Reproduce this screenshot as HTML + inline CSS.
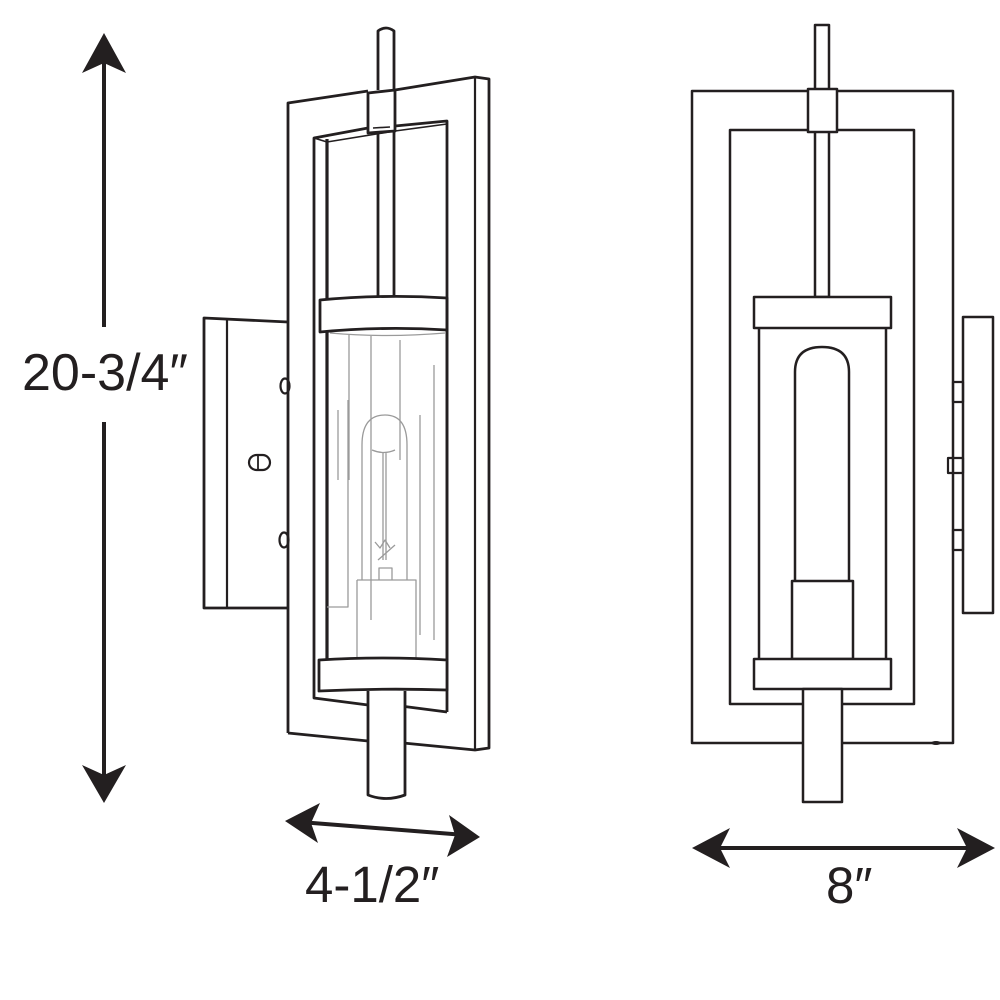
<!DOCTYPE html>
<html><head><meta charset="utf-8"><style>
html,body{margin:0;padding:0;background:#fff;}
svg{display:block}
text{font-family:"Liberation Sans","DejaVu Sans",sans-serif;fill:#231f20}
</style></head><body>
<svg width="1000" height="1000" viewBox="0 0 1000 1000" xmlns="http://www.w3.org/2000/svg">
<g stroke="#231f20" fill="none" stroke-linejoin="round">
<!-- Vertical dimension -->
<line x1="104" y1="60" x2="104" y2="327" stroke-width="4"/>
<line x1="104" y1="422" x2="104" y2="775" stroke-width="4"/>
<path d="M104 33 L126 73 L104 63 L82 73 Z" fill="#231f20" stroke="none"/>
<path d="M104 803 L126 765 L104 775 L82 765 Z" fill="#231f20" stroke="none"/>

<!-- 4-1/2 arrow -->
<line x1="300" y1="822" x2="465" y2="835" stroke-width="4"/>
<path d="M285 821 L320 803 L311 823 L318 843 Z" fill="#231f20" stroke="none"/>
<path d="M480 837 L447 857 L455 835 L449 815 Z" fill="#231f20" stroke="none"/>

<!-- 8 arrow -->
<line x1="710" y1="848" x2="975" y2="848" stroke-width="4"/>
<path d="M692 848 L730 828 L720 848 L730 868 Z" fill="#231f20" stroke="none"/>
<path d="M995 848 L957 828 L967 848 L957 868 Z" fill="#231f20" stroke="none"/>

<!-- SIDE VIEW -->
<path d="M288 322 L204 318 L204 608 L288 608" stroke-width="2.8"/>
<line x1="227" y1="318" x2="227" y2="608" stroke-width="2.2"/>
<ellipse cx="285" cy="386" rx="4.5" ry="7.5" stroke-width="2.2"/>
<ellipse cx="284" cy="540" rx="4.5" ry="7.5" stroke-width="2.2"/>
<rect x="249" y="455" width="21" height="15" rx="7.5" stroke-width="2.2"/>
<line x1="258" y1="456" x2="258" y2="469" stroke-width="1.8"/>

<path d="M288 733 L288 103 L368 91" stroke-width="2.8"/>
<path d="M395 90 L475 77 L489 79 L489 748 L475 750 L393 742 L393 705 L447 712" stroke-width="2.8"/>
<line x1="475" y1="77" x2="475" y2="750" stroke-width="2.2"/>
<path d="M288 733 L368 741" stroke-width="2.8"/>
<path d="M368 128 L314 138 L314 698 L368 705" stroke-width="2.8"/>
<path d="M395 126 L447 121 L447 712" stroke-width="2.8"/>
<path d="M327 139 L327 660" stroke-width="3.2"/>
<path d="M314 138 L327 142 L395 131 L447 124" stroke-width="1.6"/>

<path d="M378 90 L378 31 Q386 25 394 31 L394 90" stroke-width="2.8" fill="#fff"/>
<path d="M368 93 L395 90 L395 131 L368 133 Z" stroke-width="2.8" fill="#fff"/>
<line x1="373" y1="128" x2="390" y2="127" stroke-width="1.6"/>
<line x1="378" y1="133" x2="378" y2="297" stroke-width="2.8"/>
<line x1="394" y1="132" x2="394" y2="297" stroke-width="2.8"/>
<path d="M320 300 Q383 294 447 298 L447 330 Q383 326 320 332 Z" stroke-width="2.8" fill="#fff"/>
<g stroke="#9a9a9a" stroke-width="1.3">
<path d="M330 333 Q385 338 445 333"/>
<line x1="349" y1="335" x2="349" y2="480"/>
<line x1="338" y1="410" x2="338" y2="480"/>
<line x1="371" y1="336" x2="371" y2="620"/>
<line x1="400" y1="340" x2="400" y2="460"/>
<line x1="420" y1="415" x2="420" y2="635"/>
<line x1="434" y1="365" x2="434" y2="640"/>
<path d="M327 607 L348 607 L348 400"/>
<path d="M362 580 L362 445 Q362 415 385 415 Q407 415 407 445 L407 580"/>
<path d="M372 450 Q384 455 395 450 M383 452 L383 560 M386 452 L386 560"/>
<path d="M375 542 L380 548 L385 540 L390 548 M378 560 L395 545"/>
<path d="M379 580 L379 568 L392 568 L392 580"/>
<path d="M357 580 L416 580 L416 660 M357 580 L357 660"/>
</g>
<line x1="447" y1="298" x2="447" y2="660" stroke-width="2.8"/>
<path d="M319 660 Q383 656 447 660 L447 690 Q383 688 319 691 Z" stroke-width="2.8" fill="#fff"/>
<path d="M368 691 L368 795 Q386 802 405 795 L405 691" stroke-width="2.8" fill="#fff"/>

<!-- FRONT VIEW -->
<rect x="692" y="91" width="261" height="652" stroke-width="2.5"/>
<rect x="730" y="130" width="184" height="574" stroke-width="2.5"/>
<rect x="815" y="25" width="14" height="272" stroke-width="2.5" fill="#fff"/>
<rect x="808" y="89" width="29" height="43" stroke-width="2.5" fill="#fff"/>
<rect x="754" y="297" width="137" height="31" stroke-width="2.5" fill="#fff"/>
<line x1="759" y1="328" x2="759" y2="659" stroke-width="2.5"/>
<line x1="886" y1="328" x2="886" y2="659" stroke-width="2.5"/>
<path d="M795 581 L795 372 Q795 347 822 347 Q849 347 849 372 L849 581" stroke-width="2.5"/>
<rect x="792" y="581" width="61" height="78" stroke-width="2.5" fill="#fff"/>
<rect x="754" y="659" width="137" height="30" stroke-width="2.5" fill="#fff"/>
<rect x="803" y="689" width="39" height="113" stroke-width="2.5" fill="#fff"/>
<rect x="963" y="317" width="30" height="296" stroke-width="2.5"/>
<rect x="953" y="382" width="10" height="20" stroke-width="2.2"/>
<rect x="948" y="458" width="15" height="15" stroke-width="2.2"/>
<rect x="953" y="530" width="10" height="20" stroke-width="2.2"/>
<ellipse cx="936" cy="743" rx="5" ry="2" fill="#231f20" stroke="none"/>
</g>
<text x="22" y="390" font-size="52">20-3/4″</text>
<text x="305" y="902" font-size="51">4-1/2″</text>
<text x="826" y="903" font-size="51">8″</text>
</svg>
</body></html>
